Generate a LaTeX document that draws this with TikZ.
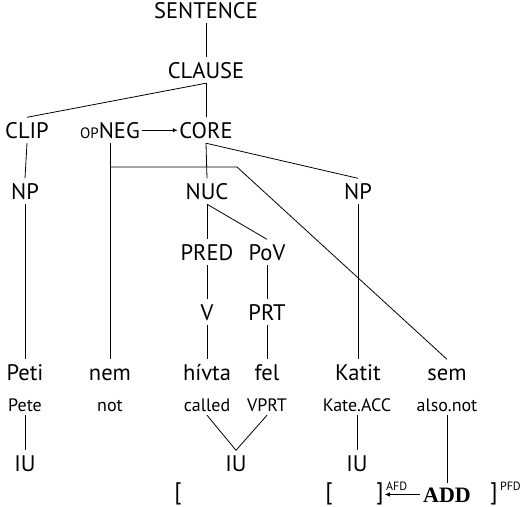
\documentclass[tikz,border=0pt]{standalone}
\usepackage{fontspec}
\setmainfont{PT Sans}
\newfontfamily\boldserif{Liberation Serif}
\usetikzlibrary{arrows.meta}
\begin{document}
\begin{tikzpicture}[x=1pt,y=-1pt,
  cat/.style={font=\fontsize{22.5}{22.5}\selectfont, anchor=base, inner xsep=1.5pt,
              inner ysep=5pt, text height=15.5pt, text depth=0pt},
  gloss/.style={font=\fontsize{18}{18}\selectfont, anchor=base, inner xsep=1pt,
                inner ysep=4pt, text height=12.5pt, text depth=0pt},
  brk/.style={font=\fontsize{24}{24}\selectfont, anchor=base, inner sep=1pt},
  supmark/.style={font=\fontsize{12}{12}\selectfont, anchor=base west, inner sep=0pt},
  focus/.style={font=\boldserif\bfseries\fontsize{22}{22}\selectfont, anchor=base,
                inner xsep=3pt, inner ysep=4pt, text height=15pt, text depth=0pt},
  edge/.style={draw, line width=0.8pt},
  arr/.style={edge, -{Latex[length=5pt,width=4.5pt]}}]
\useasboundingbox (0,0) rectangle (526,506);

% clause structure
\node[cat] (sentence) at (206,18)  {SENTENCE};
\node[cat] (clause)   at (206,78)  {CLAUSE};
\node[cat] (clip)     at (27,138)  {CLIP};
\node[cat] (neg)      at (110,138) {{\fontsize{15}{15}\selectfont OP}NEG};
\node[cat] (core)     at (206,138) {CORE};
\node[cat] (np1)      at (25,199)  {NP};
\node[cat] (nuc)      at (207,199) {NUC};
\node[cat] (np2)      at (358,199) {NP};
\node[cat] (pred)     at (207,260) {PRED};
\node[cat] (pov)      at (267,260) {PoV};
\node[cat] (v)        at (207,320) {V};
\node[cat] (prt)      at (267,320) {PRT};

% words
\node[cat] (peti)  at (25,380)  {Peti};
\node[cat] (nem)   at (110,380) {nem};
\node[cat] (hivta) at (207,380) {hívta};
\node[cat] (fel)   at (267,380) {fel};
\node[cat] (katit) at (358,380) {Katit};
\node[cat] (sem)   at (447,380) {sem};

% glosses
\node[gloss] (pete)    at (25,411)  {Pete};
\node[gloss] (not)     at (110,411) {not};
\node[gloss] (called)  at (207,411) {called};
\node[gloss] (vprt)    at (267,411) {VPRT};
\node[gloss] (kateacc) at (357,411) {Kate.ACC};
\node[gloss] (alsonot) at (447,411) {also.not};

% information units
\node[cat] (iu1) at (25,471)  {IU};
\node[cat] (iu2) at (236,471) {IU};
\node[cat] (iu3) at (357,471) {IU};

% focus domains
\node[brk] (pfdopen) at (178,499) {[};
\node[brk] (afdopen) at (329,499) {[};
\node[brk] (afdclose) at (380,499) {]};
\node[supmark] (afd) at ([xshift=1pt,yshift=9pt]afdclose.base east) {AFD};
\node[focus] (add) at (447,502) {ADD};
\node[brk] (pfdclose) at (494,499) {]};
\node[supmark] (pfd) at ([xshift=1pt,yshift=9pt]pfdclose.base east) {PFD};

% branches
\draw[edge] (sentence.south) -- (clause.north);
\draw[edge] (clause.south) -- (clip.north);
\draw[edge] (clause.south) -- (core.north);
\draw[arr]  (neg.east) -- (core.west);
\draw[edge] (clip.south) -- (np1.north);
\draw[edge] (neg.south) -- (nem.north);
\coordinate (bend) at (237,167);
\draw[edge] (bend -| neg.south) -- (bend) -- (sem.north);
\draw[edge] (core.south) -- (nuc.north);
\draw[edge] (core.south) -- (np2.north);
\draw[edge] (nuc.south) -- (pred.north);
\draw[edge] (nuc.south) -- (pov.north);
\draw[edge] (pred.south) -- (v.north);
\draw[edge] (pov.south) -- (prt.north);
\draw[edge] (v.south) -- (hivta.north);
\draw[edge] (prt.south) -- (fel.north);
\draw[edge] (np1.south) -- (peti.north);
\draw[edge] (np2.south) -- (katit.north);

\draw[edge] (pete.south) -- (iu1.north);
\draw[edge] (called.south) -- (iu2.north);
\draw[edge] (vprt.south) -- (iu2.north);
\draw[edge] (kateacc.south) -- (iu3.north);
\draw[edge] (alsonot.south) -- (alsonot.south |- add.north);
\draw[arr]  (add.west) -- (add.west -| afdclose.east);
\end{tikzpicture}
\end{document}
